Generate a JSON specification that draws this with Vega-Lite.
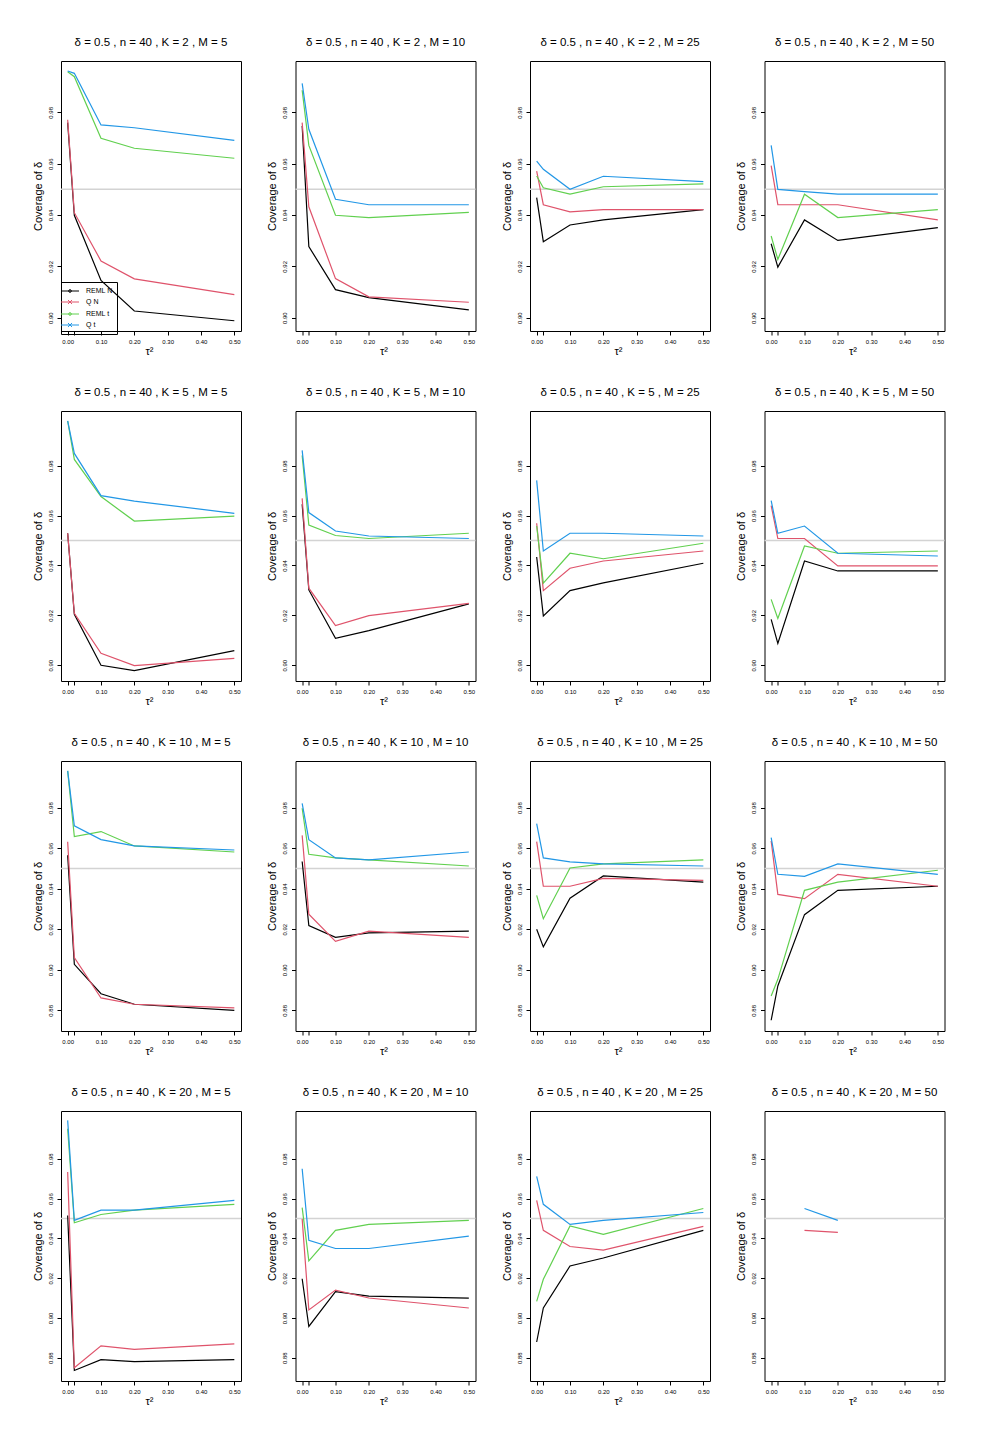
{
  "$schema": "https://vega.github.io/schema/vega-lite/v6.json",
  "background": "white",
  "padding": {"left": 31, "top": 36, "right": 5, "bottom": 5},
  "config": {
    "font": "Liberation Sans",
    "view": {"stroke": "black", "strokeWidth": 1},
    "title": {"fontSize": 11.5, "fontWeight": "normal", "color": "black", "baseline": "alphabetic", "offset": 13, "font": "Liberation Sans"},
    "axis": {"domain": false, "grid": false, "ticks": true, "tickColor": "black", "tickSize": 4, "tickWidth": 1, "labelFont": "Liberation Sans", "labelFontSize": 6, "labelColor": "black", "titleFont": "Liberation Sans", "titleFontWeight": "normal", "titleColor": "black", "labelOverlap": false, "labelFlush": false},
    "axisY": {"labelAngle": 270, "labelPadding": 4, "titleFontSize": 11, "titlePadding": 4, "format": ".2f"},
    "axisX": {"labelPadding": 3, "titleFontSize": 11, "titleX": 88, "titleY": 23, "titleBaseline": "alphabetic", "titleAlign": "center", "labelOverlap": false},
    "legend": {"orient": "none", "legendX": 0, "legendY": 221, "padding": 4, "strokeColor": "black", "labelFontSize": 7, "labelColor": "black", "symbolSize": 81, "symbolStrokeWidth": 1, "rowPadding": 2, "labelOffset": 11, "symbolOpacity": 1}
  },
  "bounds": "flush",
  "columns": 4,
  "spacing": {"row": 80, "column": 54.5},
  "data": {"values": [
    {"K":2,"M":5,"s":"REML N","x":0,"y":0.976},{"K":2,"M":5,"s":"REML N","x":0.02,"y":0.9399},{"K":2,"M":5,"s":"REML N","x":0.1,"y":0.9145},{"K":2,"M":5,"s":"REML N","x":0.2,"y":0.9026},{"K":2,"M":5,"s":"REML N","x":0.5,"y":0.8988},
    {"K":2,"M":5,"s":"Q N","x":0,"y":0.9771},{"K":2,"M":5,"s":"Q N","x":0.02,"y":0.9409},{"K":2,"M":5,"s":"Q N","x":0.1,"y":0.9221},{"K":2,"M":5,"s":"Q N","x":0.2,"y":0.9151},{"K":2,"M":5,"s":"Q N","x":0.5,"y":0.909},
    {"K":2,"M":5,"s":"REML t","x":0,"y":0.9958},{"K":2,"M":5,"s":"REML t","x":0.02,"y":0.9939},{"K":2,"M":5,"s":"REML t","x":0.1,"y":0.9699},{"K":2,"M":5,"s":"REML t","x":0.2,"y":0.966},{"K":2,"M":5,"s":"REML t","x":0.5,"y":0.9621},
    {"K":2,"M":5,"s":"Q t","x":0,"y":0.9961},{"K":2,"M":5,"s":"Q t","x":0.02,"y":0.9952},{"K":2,"M":5,"s":"Q t","x":0.1,"y":0.9751},{"K":2,"M":5,"s":"Q t","x":0.2,"y":0.974},{"K":2,"M":5,"s":"Q t","x":0.5,"y":0.9691},

    {"K":2,"M":10,"s":"REML N","x":0,"y":0.9747},{"K":2,"M":10,"s":"REML N","x":0.02,"y":0.9277},{"K":2,"M":10,"s":"REML N","x":0.1,"y":0.9109},{"K":2,"M":10,"s":"REML N","x":0.2,"y":0.9078},{"K":2,"M":10,"s":"REML N","x":0.5,"y":0.903},
    {"K":2,"M":10,"s":"Q N","x":0,"y":0.976},{"K":2,"M":10,"s":"Q N","x":0.02,"y":0.9432},{"K":2,"M":10,"s":"Q N","x":0.1,"y":0.9152},{"K":2,"M":10,"s":"Q N","x":0.2,"y":0.9081},{"K":2,"M":10,"s":"Q N","x":0.5,"y":0.906},
    {"K":2,"M":10,"s":"REML t","x":0,"y":0.9886},{"K":2,"M":10,"s":"REML t","x":0.02,"y":0.9671},{"K":2,"M":10,"s":"REML t","x":0.1,"y":0.9399},{"K":2,"M":10,"s":"REML t","x":0.2,"y":0.939},{"K":2,"M":10,"s":"REML t","x":0.5,"y":0.941},
    {"K":2,"M":10,"s":"Q t","x":0,"y":0.9913},{"K":2,"M":10,"s":"Q t","x":0.02,"y":0.9734},{"K":2,"M":10,"s":"Q t","x":0.1,"y":0.9461},{"K":2,"M":10,"s":"Q t","x":0.2,"y":0.944},{"K":2,"M":10,"s":"Q t","x":0.5,"y":0.944},

    {"K":2,"M":25,"s":"REML N","x":0,"y":0.9468},{"K":2,"M":25,"s":"REML N","x":0.02,"y":0.9296},{"K":2,"M":25,"s":"REML N","x":0.1,"y":0.9361},{"K":2,"M":25,"s":"REML N","x":0.2,"y":0.9381},{"K":2,"M":25,"s":"REML N","x":0.5,"y":0.9421},
    {"K":2,"M":25,"s":"Q N","x":0,"y":0.9571},{"K":2,"M":25,"s":"Q N","x":0.02,"y":0.944},{"K":2,"M":25,"s":"Q N","x":0.1,"y":0.9412},{"K":2,"M":25,"s":"Q N","x":0.2,"y":0.9421},{"K":2,"M":25,"s":"Q N","x":0.5,"y":0.9421},
    {"K":2,"M":25,"s":"REML t","x":0,"y":0.9552},{"K":2,"M":25,"s":"REML t","x":0.02,"y":0.9506},{"K":2,"M":25,"s":"REML t","x":0.1,"y":0.9481},{"K":2,"M":25,"s":"REML t","x":0.2,"y":0.951},{"K":2,"M":25,"s":"REML t","x":0.5,"y":0.9521},
    {"K":2,"M":25,"s":"Q t","x":0,"y":0.961},{"K":2,"M":25,"s":"Q t","x":0.02,"y":0.9578},{"K":2,"M":25,"s":"Q t","x":0.1,"y":0.95},{"K":2,"M":25,"s":"Q t","x":0.2,"y":0.9551},{"K":2,"M":25,"s":"Q t","x":0.5,"y":0.953},

    {"K":2,"M":50,"s":"REML N","x":0,"y":0.9288},{"K":2,"M":50,"s":"REML N","x":0.02,"y":0.9197},{"K":2,"M":50,"s":"REML N","x":0.1,"y":0.9381},{"K":2,"M":50,"s":"REML N","x":0.2,"y":0.9301},{"K":2,"M":50,"s":"REML N","x":0.5,"y":0.9351},
    {"K":2,"M":50,"s":"Q N","x":0,"y":0.9592},{"K":2,"M":50,"s":"Q N","x":0.02,"y":0.944},{"K":2,"M":50,"s":"Q N","x":0.1,"y":0.944},{"K":2,"M":50,"s":"Q N","x":0.2,"y":0.944},{"K":2,"M":50,"s":"Q N","x":0.5,"y":0.9381},
    {"K":2,"M":50,"s":"REML t","x":0,"y":0.9318},{"K":2,"M":50,"s":"REML t","x":0.02,"y":0.9227},{"K":2,"M":50,"s":"REML t","x":0.1,"y":0.9481},{"K":2,"M":50,"s":"REML t","x":0.2,"y":0.939},{"K":2,"M":50,"s":"REML t","x":0.5,"y":0.9421},
    {"K":2,"M":50,"s":"Q t","x":0,"y":0.9671},{"K":2,"M":50,"s":"Q t","x":0.02,"y":0.95},{"K":2,"M":50,"s":"Q t","x":0.1,"y":0.9491},{"K":2,"M":50,"s":"Q t","x":0.2,"y":0.9481},{"K":2,"M":50,"s":"Q t","x":0.5,"y":0.9481},

    {"K":5,"M":5,"s":"REML N","x":0,"y":0.9529},{"K":5,"M":5,"s":"REML N","x":0.02,"y":0.9204},{"K":5,"M":5,"s":"REML N","x":0.1,"y":0.9},{"K":5,"M":5,"s":"REML N","x":0.2,"y":0.8979},{"K":5,"M":5,"s":"REML N","x":0.5,"y":0.9059},
    {"K":5,"M":5,"s":"Q N","x":0,"y":0.9529},{"K":5,"M":5,"s":"Q N","x":0.02,"y":0.9208},{"K":5,"M":5,"s":"Q N","x":0.1,"y":0.9048},{"K":5,"M":5,"s":"Q N","x":0.2,"y":0.8999},{"K":5,"M":5,"s":"Q N","x":0.5,"y":0.9028},
    {"K":5,"M":5,"s":"REML t","x":0,"y":0.9979},{"K":5,"M":5,"s":"REML t","x":0.02,"y":0.9825},{"K":5,"M":5,"s":"REML t","x":0.1,"y":0.9676},{"K":5,"M":5,"s":"REML t","x":0.2,"y":0.9578},{"K":5,"M":5,"s":"REML t","x":0.5,"y":0.9598},
    {"K":5,"M":5,"s":"Q t","x":0,"y":0.9979},{"K":5,"M":5,"s":"Q t","x":0.02,"y":0.9849},{"K":5,"M":5,"s":"Q t","x":0.1,"y":0.968},{"K":5,"M":5,"s":"Q t","x":0.2,"y":0.9658},{"K":5,"M":5,"s":"Q t","x":0.5,"y":0.9609},

    {"K":5,"M":10,"s":"REML N","x":0,"y":0.9645},{"K":5,"M":10,"s":"REML N","x":0.02,"y":0.9302},{"K":5,"M":10,"s":"REML N","x":0.1,"y":0.9108},{"K":5,"M":10,"s":"REML N","x":0.2,"y":0.9139},{"K":5,"M":10,"s":"REML N","x":0.5,"y":0.9246},
    {"K":5,"M":10,"s":"Q N","x":0,"y":0.9669},{"K":5,"M":10,"s":"Q N","x":0.02,"y":0.9309},{"K":5,"M":10,"s":"Q N","x":0.1,"y":0.9159},{"K":5,"M":10,"s":"Q N","x":0.2,"y":0.9199},{"K":5,"M":10,"s":"Q N","x":0.5,"y":0.9248},
    {"K":5,"M":10,"s":"REML t","x":0,"y":0.9841},{"K":5,"M":10,"s":"REML t","x":0.02,"y":0.9562},{"K":5,"M":10,"s":"REML t","x":0.1,"y":0.952},{"K":5,"M":10,"s":"REML t","x":0.2,"y":0.9508},{"K":5,"M":10,"s":"REML t","x":0.5,"y":0.9529},
    {"K":5,"M":10,"s":"Q t","x":0,"y":0.9861},{"K":5,"M":10,"s":"Q t","x":0.02,"y":0.9612},{"K":5,"M":10,"s":"Q t","x":0.1,"y":0.9538},{"K":5,"M":10,"s":"Q t","x":0.2,"y":0.9518},{"K":5,"M":10,"s":"Q t","x":0.5,"y":0.9508},

    {"K":5,"M":25,"s":"REML N","x":0,"y":0.9434},{"K":5,"M":25,"s":"REML N","x":0.02,"y":0.9198},{"K":5,"M":25,"s":"REML N","x":0.1,"y":0.9299},{"K":5,"M":25,"s":"REML N","x":0.2,"y":0.933},{"K":5,"M":25,"s":"REML N","x":0.5,"y":0.9409},
    {"K":5,"M":25,"s":"Q N","x":0,"y":0.9569},{"K":5,"M":25,"s":"Q N","x":0.02,"y":0.9299},{"K":5,"M":25,"s":"Q N","x":0.1,"y":0.9389},{"K":5,"M":25,"s":"Q N","x":0.2,"y":0.9418},{"K":5,"M":25,"s":"Q N","x":0.5,"y":0.9458},
    {"K":5,"M":25,"s":"REML t","x":0,"y":0.9558},{"K":5,"M":25,"s":"REML t","x":0.02,"y":0.9329},{"K":5,"M":25,"s":"REML t","x":0.1,"y":0.9449},{"K":5,"M":25,"s":"REML t","x":0.2,"y":0.9427},{"K":5,"M":25,"s":"REML t","x":0.5,"y":0.9489},
    {"K":5,"M":25,"s":"Q t","x":0,"y":0.9741},{"K":5,"M":25,"s":"Q t","x":0.02,"y":0.9458},{"K":5,"M":25,"s":"Q t","x":0.1,"y":0.9529},{"K":5,"M":25,"s":"Q t","x":0.2,"y":0.9529},{"K":5,"M":25,"s":"Q t","x":0.5,"y":0.9518},

    {"K":5,"M":50,"s":"REML N","x":0,"y":0.9184},{"K":5,"M":50,"s":"REML N","x":0.02,"y":0.9088},{"K":5,"M":50,"s":"REML N","x":0.1,"y":0.9418},{"K":5,"M":50,"s":"REML N","x":0.2,"y":0.9378},{"K":5,"M":50,"s":"REML N","x":0.5,"y":0.9378},
    {"K":5,"M":50,"s":"Q N","x":0,"y":0.964},{"K":5,"M":50,"s":"Q N","x":0.02,"y":0.9508},{"K":5,"M":50,"s":"Q N","x":0.1,"y":0.9508},{"K":5,"M":50,"s":"Q N","x":0.2,"y":0.9398},{"K":5,"M":50,"s":"Q N","x":0.5,"y":0.9398},
    {"K":5,"M":50,"s":"REML t","x":0,"y":0.9264},{"K":5,"M":50,"s":"REML t","x":0.02,"y":0.9188},{"K":5,"M":50,"s":"REML t","x":0.1,"y":0.9478},{"K":5,"M":50,"s":"REML t","x":0.2,"y":0.9449},{"K":5,"M":50,"s":"REML t","x":0.5,"y":0.9458},
    {"K":5,"M":50,"s":"Q t","x":0,"y":0.966},{"K":5,"M":50,"s":"Q t","x":0.02,"y":0.9529},{"K":5,"M":50,"s":"Q t","x":0.1,"y":0.9558},{"K":5,"M":50,"s":"Q t","x":0.2,"y":0.9449},{"K":5,"M":50,"s":"Q t","x":0.5,"y":0.9438},

    {"K":10,"M":5,"s":"REML N","x":0,"y":0.9565},{"K":10,"M":5,"s":"REML N","x":0.02,"y":0.9027},{"K":10,"M":5,"s":"REML N","x":0.1,"y":0.8882},{"K":10,"M":5,"s":"REML N","x":0.2,"y":0.883},{"K":10,"M":5,"s":"REML N","x":0.5,"y":0.88},
    {"K":10,"M":5,"s":"Q N","x":0,"y":0.9632},{"K":10,"M":5,"s":"Q N","x":0.02,"y":0.906},{"K":10,"M":5,"s":"Q N","x":0.1,"y":0.8861},{"K":10,"M":5,"s":"Q N","x":0.2,"y":0.883},{"K":10,"M":5,"s":"Q N","x":0.5,"y":0.8812},
    {"K":10,"M":5,"s":"REML t","x":0,"y":0.9981},{"K":10,"M":5,"s":"REML t","x":0.02,"y":0.9657},{"K":10,"M":5,"s":"REML t","x":0.1,"y":0.9682},{"K":10,"M":5,"s":"REML t","x":0.2,"y":0.9611},{"K":10,"M":5,"s":"REML t","x":0.5,"y":0.9581},
    {"K":10,"M":5,"s":"Q t","x":0,"y":0.9981},{"K":10,"M":5,"s":"Q t","x":0.02,"y":0.971},{"K":10,"M":5,"s":"Q t","x":0.1,"y":0.9642},{"K":10,"M":5,"s":"Q t","x":0.2,"y":0.9611},{"K":10,"M":5,"s":"Q t","x":0.5,"y":0.9591},

    {"K":10,"M":10,"s":"REML N","x":0,"y":0.9534},{"K":10,"M":10,"s":"REML N","x":0.02,"y":0.9218},{"K":10,"M":10,"s":"REML N","x":0.1,"y":0.916},{"K":10,"M":10,"s":"REML N","x":0.2,"y":0.9182},{"K":10,"M":10,"s":"REML N","x":0.5,"y":0.9191},
    {"K":10,"M":10,"s":"Q N","x":0,"y":0.9663},{"K":10,"M":10,"s":"Q N","x":0.02,"y":0.9274},{"K":10,"M":10,"s":"Q N","x":0.1,"y":0.914},{"K":10,"M":10,"s":"Q N","x":0.2,"y":0.9191},{"K":10,"M":10,"s":"Q N","x":0.5,"y":0.916},
    {"K":10,"M":10,"s":"REML t","x":0,"y":0.9797},{"K":10,"M":10,"s":"REML t","x":0.02,"y":0.957},{"K":10,"M":10,"s":"REML t","x":0.1,"y":0.9552},{"K":10,"M":10,"s":"REML t","x":0.2,"y":0.9542},{"K":10,"M":10,"s":"REML t","x":0.5,"y":0.9512},
    {"K":10,"M":10,"s":"Q t","x":0,"y":0.9821},{"K":10,"M":10,"s":"Q t","x":0.02,"y":0.9642},{"K":10,"M":10,"s":"Q t","x":0.1,"y":0.9552},{"K":10,"M":10,"s":"Q t","x":0.2,"y":0.9542},{"K":10,"M":10,"s":"Q t","x":0.5,"y":0.9581},

    {"K":10,"M":25,"s":"REML N","x":0,"y":0.92},{"K":10,"M":25,"s":"REML N","x":0.02,"y":0.9113},{"K":10,"M":25,"s":"REML N","x":0.1,"y":0.9353},{"K":10,"M":25,"s":"REML N","x":0.2,"y":0.9463},{"K":10,"M":25,"s":"REML N","x":0.5,"y":0.9432},
    {"K":10,"M":25,"s":"Q N","x":0,"y":0.9632},{"K":10,"M":25,"s":"Q N","x":0.02,"y":0.9412},{"K":10,"M":25,"s":"Q N","x":0.1,"y":0.9412},{"K":10,"M":25,"s":"Q N","x":0.2,"y":0.9451},{"K":10,"M":25,"s":"Q N","x":0.5,"y":0.9441},
    {"K":10,"M":25,"s":"REML t","x":0,"y":0.9367},{"K":10,"M":25,"s":"REML t","x":0.02,"y":0.9252},{"K":10,"M":25,"s":"REML t","x":0.1,"y":0.9502},{"K":10,"M":25,"s":"REML t","x":0.2,"y":0.9522},{"K":10,"M":25,"s":"REML t","x":0.5,"y":0.9542},
    {"K":10,"M":25,"s":"Q t","x":0,"y":0.9721},{"K":10,"M":25,"s":"Q t","x":0.02,"y":0.9552},{"K":10,"M":25,"s":"Q t","x":0.1,"y":0.9532},{"K":10,"M":25,"s":"Q t","x":0.2,"y":0.9522},{"K":10,"M":25,"s":"Q t","x":0.5,"y":0.9512},

    {"K":10,"M":50,"s":"REML N","x":0,"y":0.8751},{"K":10,"M":50,"s":"REML N","x":0.02,"y":0.892},{"K":10,"M":50,"s":"REML N","x":0.1,"y":0.9272},{"K":10,"M":50,"s":"REML N","x":0.2,"y":0.9392},{"K":10,"M":50,"s":"REML N","x":0.5,"y":0.9412},
    {"K":10,"M":50,"s":"Q N","x":0,"y":0.9636},{"K":10,"M":50,"s":"Q N","x":0.02,"y":0.9372},{"K":10,"M":50,"s":"Q N","x":0.1,"y":0.9351},{"K":10,"M":50,"s":"Q N","x":0.2,"y":0.9471},{"K":10,"M":50,"s":"Q N","x":0.5,"y":0.9412},
    {"K":10,"M":50,"s":"REML t","x":0,"y":0.8871},{"K":10,"M":50,"s":"REML t","x":0.02,"y":0.8953},{"K":10,"M":50,"s":"REML t","x":0.1,"y":0.9392},{"K":10,"M":50,"s":"REML t","x":0.2,"y":0.9432},{"K":10,"M":50,"s":"REML t","x":0.5,"y":0.9491},
    {"K":10,"M":50,"s":"Q t","x":0,"y":0.9652},{"K":10,"M":50,"s":"Q t","x":0.02,"y":0.9471},{"K":10,"M":50,"s":"Q t","x":0.1,"y":0.9461},{"K":10,"M":50,"s":"Q t","x":0.2,"y":0.9522},{"K":10,"M":50,"s":"Q t","x":0.5,"y":0.9471},

    {"K":20,"M":5,"s":"REML N","x":0,"y":0.9515},{"K":20,"M":5,"s":"REML N","x":0.02,"y":0.8736},{"K":20,"M":5,"s":"REML N","x":0.1,"y":0.879},{"K":20,"M":5,"s":"REML N","x":0.2,"y":0.878},{"K":20,"M":5,"s":"REML N","x":0.5,"y":0.879},
    {"K":20,"M":5,"s":"Q N","x":0,"y":0.9733},{"K":20,"M":5,"s":"Q N","x":0.02,"y":0.875},{"K":20,"M":5,"s":"Q N","x":0.1,"y":0.886},{"K":20,"M":5,"s":"Q N","x":0.2,"y":0.8842},{"K":20,"M":5,"s":"Q N","x":0.5,"y":0.887},
    {"K":20,"M":5,"s":"REML t","x":0,"y":0.9951},{"K":20,"M":5,"s":"REML t","x":0.02,"y":0.9478},{"K":20,"M":5,"s":"REML t","x":0.1,"y":0.952},{"K":20,"M":5,"s":"REML t","x":0.2,"y":0.9542},{"K":20,"M":5,"s":"REML t","x":0.5,"y":0.9571},
    {"K":20,"M":5,"s":"Q t","x":0,"y":0.9993},{"K":20,"M":5,"s":"Q t","x":0.02,"y":0.949},{"K":20,"M":5,"s":"Q t","x":0.1,"y":0.9542},{"K":20,"M":5,"s":"Q t","x":0.2,"y":0.9542},{"K":20,"M":5,"s":"Q t","x":0.5,"y":0.9591},

    {"K":20,"M":10,"s":"REML N","x":0,"y":0.9197},{"K":20,"M":10,"s":"REML N","x":0.02,"y":0.8957},{"K":20,"M":10,"s":"REML N","x":0.1,"y":0.9132},{"K":20,"M":10,"s":"REML N","x":0.2,"y":0.911},{"K":20,"M":10,"s":"REML N","x":0.5,"y":0.91},
    {"K":20,"M":10,"s":"Q N","x":0,"y":0.9498},{"K":20,"M":10,"s":"Q N","x":0.02,"y":0.904},{"K":20,"M":10,"s":"Q N","x":0.1,"y":0.914},{"K":20,"M":10,"s":"Q N","x":0.2,"y":0.91},{"K":20,"M":10,"s":"Q N","x":0.5,"y":0.905},
    {"K":20,"M":10,"s":"REML t","x":0,"y":0.9554},{"K":20,"M":10,"s":"REML t","x":0.02,"y":0.9287},{"K":20,"M":10,"s":"REML t","x":0.1,"y":0.944},{"K":20,"M":10,"s":"REML t","x":0.2,"y":0.947},{"K":20,"M":10,"s":"REML t","x":0.5,"y":0.949},
    {"K":20,"M":10,"s":"Q t","x":0,"y":0.975},{"K":20,"M":10,"s":"Q t","x":0.02,"y":0.939},{"K":20,"M":10,"s":"Q t","x":0.1,"y":0.9349},{"K":20,"M":10,"s":"Q t","x":0.2,"y":0.9349},{"K":20,"M":10,"s":"Q t","x":0.5,"y":0.9411},

    {"K":20,"M":25,"s":"REML N","x":0,"y":0.8879},{"K":20,"M":25,"s":"REML N","x":0.02,"y":0.905},{"K":20,"M":25,"s":"REML N","x":0.1,"y":0.9261},{"K":20,"M":25,"s":"REML N","x":0.2,"y":0.9301},{"K":20,"M":25,"s":"REML N","x":0.5,"y":0.944},
    {"K":20,"M":25,"s":"Q N","x":0,"y":0.9591},{"K":20,"M":25,"s":"Q N","x":0.02,"y":0.944},{"K":20,"M":25,"s":"Q N","x":0.1,"y":0.9359},{"K":20,"M":25,"s":"Q N","x":0.2,"y":0.9341},{"K":20,"M":25,"s":"Q N","x":0.5,"y":0.946},
    {"K":20,"M":25,"s":"REML t","x":0,"y":0.9083},{"K":20,"M":25,"s":"REML t","x":0.02,"y":0.9194},{"K":20,"M":25,"s":"REML t","x":0.1,"y":0.9462},{"K":20,"M":25,"s":"REML t","x":0.2,"y":0.942},{"K":20,"M":25,"s":"REML t","x":0.5,"y":0.955},
    {"K":20,"M":25,"s":"Q t","x":0,"y":0.9711},{"K":20,"M":25,"s":"Q t","x":0.02,"y":0.9571},{"K":20,"M":25,"s":"Q t","x":0.1,"y":0.947},{"K":20,"M":25,"s":"Q t","x":0.2,"y":0.949},{"K":20,"M":25,"s":"Q t","x":0.5,"y":0.953},

    {"K":20,"M":50,"s":"Q N","x":0.1,"y":0.944},{"K":20,"M":50,"s":"Q N","x":0.2,"y":0.943},
    {"K":20,"M":50,"s":"Q t","x":0.1,"y":0.955},{"K":20,"M":50,"s":"Q t","x":0.2,"y":0.949}
  ]},
  "concat": [
    {"width":180,"height":270,"title":"δ = 0.5 , n = 40 , K = 2 , M = 5",
     "encoding":{"y":{"field":"y","type":"quantitative","scale":{"domain":[0.8948,1.0],"nice":false,"zero":false},"axis":{"title":"Coverage of δ","values":[0.9,0.92,0.94,0.96,0.98]}}},
     "layer":[
      {"data":{"values":[{"y":0.95}]},"mark":{"type":"rule","color":"#d3d3d3","strokeWidth":1.5},"encoding":{}},
      {"transform":[{"filter":"datum.K == 2 && datum.M == 5"}],"mark":{"type":"line","strokeWidth":1.2},"encoding":{"x":{"field":"x","type":"quantitative","scale":{"domain":[-0.02,0.52],"nice":false,"zero":false},"axis":{"title":"τ²","labelOverlap":false,"values":[0,0.02,0.1,0.2,0.3,0.4,0.5],"labelExpr":"abs(datum.value - 0.02) < 0.001 ? '' : format(datum.value, '.2f')"}},"color":{"field":"s","type":"nominal","scale":{"domain":["REML N","Q N","REML t","Q t"],"range":["#000000","#DF536B","#61D04F","#2297E6"]},"legend":{"title":null}}}},
      {"transform":[{"filter":"datum.K == 2 && datum.M == 5"}],"mark":{"type":"point","filled":false,"opacity":0},"encoding":{"x":{"field":"x","type":"quantitative","scale":{"domain":[-0.02,0.52],"nice":false,"zero":false},"axis":{"title":"τ²","labelOverlap":false,"values":[0,0.02,0.1,0.2,0.3,0.4,0.5],"labelExpr":"abs(datum.value - 0.02) < 0.001 ? '' : format(datum.value, '.2f')"}},"color":{"field":"s","type":"nominal","legend":{"title":null}},"shape":{"field":"s","type":"nominal","scale":{"domain":["REML N","Q N","REML t","Q t"],"range":["M-2,0L2,0M-0.3,0A0.3,0.3,0,1,0,0.3,0A0.3,0.3,0,1,0,-0.3,0","M-2,0L2,0M-0.45,-0.45L0.45,0.45M-0.45,0.45L0.45,-0.45","M-2,0L2,0M-0.3,0A0.3,0.3,0,1,0,0.3,0A0.3,0.3,0,1,0,-0.3,0","M-2,0L2,0M-0.45,-0.45L0.45,0.45M-0.45,0.45L0.45,-0.45"]},"legend":{"title":null}}}}
     ]},
    {"width":180,"height":270,"title":"δ = 0.5 , n = 40 , K = 2 , M = 10",
     "encoding":{"y":{"field":"y","type":"quantitative","scale":{"domain":[0.8948,1.0],"nice":false,"zero":false},"axis":{"title":"Coverage of δ","values":[0.9,0.92,0.94,0.96,0.98]}}},
     "layer":[
      {"data":{"values":[{"y":0.95}]},"mark":{"type":"rule","color":"#d3d3d3","strokeWidth":1.5},"encoding":{}},
      {"transform":[{"filter":"datum.K == 2 && datum.M == 10"}],"mark":{"type":"line","strokeWidth":1.2},"encoding":{"x":{"field":"x","type":"quantitative","scale":{"domain":[-0.02,0.52],"nice":false,"zero":false},"axis":{"title":"τ²","labelOverlap":false,"values":[0,0.02,0.1,0.2,0.3,0.4,0.5],"labelExpr":"abs(datum.value - 0.02) < 0.001 ? '' : format(datum.value, '.2f')"}},"color":{"field":"s","type":"nominal","legend":{"title":null}}}}
     ]},
    {"width":180,"height":270,"title":"δ = 0.5 , n = 40 , K = 2 , M = 25",
     "encoding":{"y":{"field":"y","type":"quantitative","scale":{"domain":[0.8948,1.0],"nice":false,"zero":false},"axis":{"title":"Coverage of δ","values":[0.9,0.92,0.94,0.96,0.98]}}},
     "layer":[
      {"data":{"values":[{"y":0.95}]},"mark":{"type":"rule","color":"#d3d3d3","strokeWidth":1.5},"encoding":{}},
      {"transform":[{"filter":"datum.K == 2 && datum.M == 25"}],"mark":{"type":"line","strokeWidth":1.2},"encoding":{"x":{"field":"x","type":"quantitative","scale":{"domain":[-0.02,0.52],"nice":false,"zero":false},"axis":{"title":"τ²","labelOverlap":false,"values":[0,0.02,0.1,0.2,0.3,0.4,0.5],"labelExpr":"abs(datum.value - 0.02) < 0.001 ? '' : format(datum.value, '.2f')"}},"color":{"field":"s","type":"nominal","legend":{"title":null}}}}
     ]},
    {"width":180,"height":270,"title":"δ = 0.5 , n = 40 , K = 2 , M = 50",
     "encoding":{"y":{"field":"y","type":"quantitative","scale":{"domain":[0.8948,1.0],"nice":false,"zero":false},"axis":{"title":"Coverage of δ","values":[0.9,0.92,0.94,0.96,0.98]}}},
     "layer":[
      {"data":{"values":[{"y":0.95}]},"mark":{"type":"rule","color":"#d3d3d3","strokeWidth":1.5},"encoding":{}},
      {"transform":[{"filter":"datum.K == 2 && datum.M == 50"}],"mark":{"type":"line","strokeWidth":1.2},"encoding":{"x":{"field":"x","type":"quantitative","scale":{"domain":[-0.02,0.52],"nice":false,"zero":false},"axis":{"title":"τ²","labelOverlap":false,"values":[0,0.02,0.1,0.2,0.3,0.4,0.5],"labelExpr":"abs(datum.value - 0.02) < 0.001 ? '' : format(datum.value, '.2f')"}},"color":{"field":"s","type":"nominal","legend":{"title":null}}}}
     ]},

    {"width":180,"height":270,"title":"δ = 0.5 , n = 40 , K = 5 , M = 5",
     "encoding":{"y":{"field":"y","type":"quantitative","scale":{"domain":[0.8937,1.0019],"nice":false,"zero":false},"axis":{"title":"Coverage of δ","values":[0.9,0.92,0.94,0.96,0.98]}}},
     "layer":[
      {"data":{"values":[{"y":0.95}]},"mark":{"type":"rule","color":"#d3d3d3","strokeWidth":1.5},"encoding":{}},
      {"transform":[{"filter":"datum.K == 5 && datum.M == 5"}],"mark":{"type":"line","strokeWidth":1.2},"encoding":{"x":{"field":"x","type":"quantitative","scale":{"domain":[-0.02,0.52],"nice":false,"zero":false},"axis":{"title":"τ²","labelOverlap":false,"values":[0,0.02,0.1,0.2,0.3,0.4,0.5],"labelExpr":"abs(datum.value - 0.02) < 0.001 ? '' : format(datum.value, '.2f')"}},"color":{"field":"s","type":"nominal","legend":{"title":null}}}}
     ]},
    {"width":180,"height":270,"title":"δ = 0.5 , n = 40 , K = 5 , M = 10",
     "encoding":{"y":{"field":"y","type":"quantitative","scale":{"domain":[0.8937,1.0019],"nice":false,"zero":false},"axis":{"title":"Coverage of δ","values":[0.9,0.92,0.94,0.96,0.98]}}},
     "layer":[
      {"data":{"values":[{"y":0.95}]},"mark":{"type":"rule","color":"#d3d3d3","strokeWidth":1.5},"encoding":{}},
      {"transform":[{"filter":"datum.K == 5 && datum.M == 10"}],"mark":{"type":"line","strokeWidth":1.2},"encoding":{"x":{"field":"x","type":"quantitative","scale":{"domain":[-0.02,0.52],"nice":false,"zero":false},"axis":{"title":"τ²","labelOverlap":false,"values":[0,0.02,0.1,0.2,0.3,0.4,0.5],"labelExpr":"abs(datum.value - 0.02) < 0.001 ? '' : format(datum.value, '.2f')"}},"color":{"field":"s","type":"nominal","legend":{"title":null}}}}
     ]},
    {"width":180,"height":270,"title":"δ = 0.5 , n = 40 , K = 5 , M = 25",
     "encoding":{"y":{"field":"y","type":"quantitative","scale":{"domain":[0.8937,1.0019],"nice":false,"zero":false},"axis":{"title":"Coverage of δ","values":[0.9,0.92,0.94,0.96,0.98]}}},
     "layer":[
      {"data":{"values":[{"y":0.95}]},"mark":{"type":"rule","color":"#d3d3d3","strokeWidth":1.5},"encoding":{}},
      {"transform":[{"filter":"datum.K == 5 && datum.M == 25"}],"mark":{"type":"line","strokeWidth":1.2},"encoding":{"x":{"field":"x","type":"quantitative","scale":{"domain":[-0.02,0.52],"nice":false,"zero":false},"axis":{"title":"τ²","labelOverlap":false,"values":[0,0.02,0.1,0.2,0.3,0.4,0.5],"labelExpr":"abs(datum.value - 0.02) < 0.001 ? '' : format(datum.value, '.2f')"}},"color":{"field":"s","type":"nominal","legend":{"title":null}}}}
     ]},
    {"width":180,"height":270,"title":"δ = 0.5 , n = 40 , K = 5 , M = 50",
     "encoding":{"y":{"field":"y","type":"quantitative","scale":{"domain":[0.8937,1.0019],"nice":false,"zero":false},"axis":{"title":"Coverage of δ","values":[0.9,0.92,0.94,0.96,0.98]}}},
     "layer":[
      {"data":{"values":[{"y":0.95}]},"mark":{"type":"rule","color":"#d3d3d3","strokeWidth":1.5},"encoding":{}},
      {"transform":[{"filter":"datum.K == 5 && datum.M == 50"}],"mark":{"type":"line","strokeWidth":1.2},"encoding":{"x":{"field":"x","type":"quantitative","scale":{"domain":[-0.02,0.52],"nice":false,"zero":false},"axis":{"title":"τ²","labelOverlap":false,"values":[0,0.02,0.1,0.2,0.3,0.4,0.5],"labelExpr":"abs(datum.value - 0.02) < 0.001 ? '' : format(datum.value, '.2f')"}},"color":{"field":"s","type":"nominal","legend":{"title":null}}}}
     ]},

    {"width":180,"height":270,"title":"δ = 0.5 , n = 40 , K = 10 , M = 5",
     "encoding":{"y":{"field":"y","type":"quantitative","scale":{"domain":[0.8698,1.003],"nice":false,"zero":false},"axis":{"title":"Coverage of δ","values":[0.88,0.9,0.92,0.94,0.96,0.98]}}},
     "layer":[
      {"data":{"values":[{"y":0.95}]},"mark":{"type":"rule","color":"#d3d3d3","strokeWidth":1.5},"encoding":{}},
      {"transform":[{"filter":"datum.K == 10 && datum.M == 5"}],"mark":{"type":"line","strokeWidth":1.2},"encoding":{"x":{"field":"x","type":"quantitative","scale":{"domain":[-0.02,0.52],"nice":false,"zero":false},"axis":{"title":"τ²","labelOverlap":false,"values":[0,0.02,0.1,0.2,0.3,0.4,0.5],"labelExpr":"abs(datum.value - 0.02) < 0.001 ? '' : format(datum.value, '.2f')"}},"color":{"field":"s","type":"nominal","legend":{"title":null}}}}
     ]},
    {"width":180,"height":270,"title":"δ = 0.5 , n = 40 , K = 10 , M = 10",
     "encoding":{"y":{"field":"y","type":"quantitative","scale":{"domain":[0.8698,1.003],"nice":false,"zero":false},"axis":{"title":"Coverage of δ","values":[0.88,0.9,0.92,0.94,0.96,0.98]}}},
     "layer":[
      {"data":{"values":[{"y":0.95}]},"mark":{"type":"rule","color":"#d3d3d3","strokeWidth":1.5},"encoding":{}},
      {"transform":[{"filter":"datum.K == 10 && datum.M == 10"}],"mark":{"type":"line","strokeWidth":1.2},"encoding":{"x":{"field":"x","type":"quantitative","scale":{"domain":[-0.02,0.52],"nice":false,"zero":false},"axis":{"title":"τ²","labelOverlap":false,"values":[0,0.02,0.1,0.2,0.3,0.4,0.5],"labelExpr":"abs(datum.value - 0.02) < 0.001 ? '' : format(datum.value, '.2f')"}},"color":{"field":"s","type":"nominal","legend":{"title":null}}}}
     ]},
    {"width":180,"height":270,"title":"δ = 0.5 , n = 40 , K = 10 , M = 25",
     "encoding":{"y":{"field":"y","type":"quantitative","scale":{"domain":[0.8698,1.003],"nice":false,"zero":false},"axis":{"title":"Coverage of δ","values":[0.88,0.9,0.92,0.94,0.96,0.98]}}},
     "layer":[
      {"data":{"values":[{"y":0.95}]},"mark":{"type":"rule","color":"#d3d3d3","strokeWidth":1.5},"encoding":{}},
      {"transform":[{"filter":"datum.K == 10 && datum.M == 25"}],"mark":{"type":"line","strokeWidth":1.2},"encoding":{"x":{"field":"x","type":"quantitative","scale":{"domain":[-0.02,0.52],"nice":false,"zero":false},"axis":{"title":"τ²","labelOverlap":false,"values":[0,0.02,0.1,0.2,0.3,0.4,0.5],"labelExpr":"abs(datum.value - 0.02) < 0.001 ? '' : format(datum.value, '.2f')"}},"color":{"field":"s","type":"nominal","legend":{"title":null}}}}
     ]},
    {"width":180,"height":270,"title":"δ = 0.5 , n = 40 , K = 10 , M = 50",
     "encoding":{"y":{"field":"y","type":"quantitative","scale":{"domain":[0.8698,1.003],"nice":false,"zero":false},"axis":{"title":"Coverage of δ","values":[0.88,0.9,0.92,0.94,0.96,0.98]}}},
     "layer":[
      {"data":{"values":[{"y":0.95}]},"mark":{"type":"rule","color":"#d3d3d3","strokeWidth":1.5},"encoding":{}},
      {"transform":[{"filter":"datum.K == 10 && datum.M == 50"}],"mark":{"type":"line","strokeWidth":1.2},"encoding":{"x":{"field":"x","type":"quantitative","scale":{"domain":[-0.02,0.52],"nice":false,"zero":false},"axis":{"title":"τ²","labelOverlap":false,"values":[0,0.02,0.1,0.2,0.3,0.4,0.5],"labelExpr":"abs(datum.value - 0.02) < 0.001 ? '' : format(datum.value, '.2f')"}},"color":{"field":"s","type":"nominal","legend":{"title":null}}}}
     ]},

    {"width":180,"height":270,"title":"δ = 0.5 , n = 40 , K = 20 , M = 5",
     "encoding":{"y":{"field":"y","type":"quantitative","scale":{"domain":[0.8683,1.004],"nice":false,"zero":false},"axis":{"title":"Coverage of δ","values":[0.88,0.9,0.92,0.94,0.96,0.98]}}},
     "layer":[
      {"data":{"values":[{"y":0.95}]},"mark":{"type":"rule","color":"#d3d3d3","strokeWidth":1.5},"encoding":{}},
      {"transform":[{"filter":"datum.K == 20 && datum.M == 5"}],"mark":{"type":"line","strokeWidth":1.2},"encoding":{"x":{"field":"x","type":"quantitative","scale":{"domain":[-0.02,0.52],"nice":false,"zero":false},"axis":{"title":"τ²","labelOverlap":false,"values":[0,0.02,0.1,0.2,0.3,0.4,0.5],"labelExpr":"abs(datum.value - 0.02) < 0.001 ? '' : format(datum.value, '.2f')"}},"color":{"field":"s","type":"nominal","legend":{"title":null}}}}
     ]},
    {"width":180,"height":270,"title":"δ = 0.5 , n = 40 , K = 20 , M = 10",
     "encoding":{"y":{"field":"y","type":"quantitative","scale":{"domain":[0.8683,1.004],"nice":false,"zero":false},"axis":{"title":"Coverage of δ","values":[0.88,0.9,0.92,0.94,0.96,0.98]}}},
     "layer":[
      {"data":{"values":[{"y":0.95}]},"mark":{"type":"rule","color":"#d3d3d3","strokeWidth":1.5},"encoding":{}},
      {"transform":[{"filter":"datum.K == 20 && datum.M == 10"}],"mark":{"type":"line","strokeWidth":1.2},"encoding":{"x":{"field":"x","type":"quantitative","scale":{"domain":[-0.02,0.52],"nice":false,"zero":false},"axis":{"title":"τ²","labelOverlap":false,"values":[0,0.02,0.1,0.2,0.3,0.4,0.5],"labelExpr":"abs(datum.value - 0.02) < 0.001 ? '' : format(datum.value, '.2f')"}},"color":{"field":"s","type":"nominal","legend":{"title":null}}}}
     ]},
    {"width":180,"height":270,"title":"δ = 0.5 , n = 40 , K = 20 , M = 25",
     "encoding":{"y":{"field":"y","type":"quantitative","scale":{"domain":[0.8683,1.004],"nice":false,"zero":false},"axis":{"title":"Coverage of δ","values":[0.88,0.9,0.92,0.94,0.96,0.98]}}},
     "layer":[
      {"data":{"values":[{"y":0.95}]},"mark":{"type":"rule","color":"#d3d3d3","strokeWidth":1.5},"encoding":{}},
      {"transform":[{"filter":"datum.K == 20 && datum.M == 25"}],"mark":{"type":"line","strokeWidth":1.2},"encoding":{"x":{"field":"x","type":"quantitative","scale":{"domain":[-0.02,0.52],"nice":false,"zero":false},"axis":{"title":"τ²","labelOverlap":false,"values":[0,0.02,0.1,0.2,0.3,0.4,0.5],"labelExpr":"abs(datum.value - 0.02) < 0.001 ? '' : format(datum.value, '.2f')"}},"color":{"field":"s","type":"nominal","legend":{"title":null}}}}
     ]},
    {"width":180,"height":270,"title":"δ = 0.5 , n = 40 , K = 20 , M = 50",
     "encoding":{"y":{"field":"y","type":"quantitative","scale":{"domain":[0.8683,1.004],"nice":false,"zero":false},"axis":{"title":"Coverage of δ","values":[0.88,0.9,0.92,0.94,0.96,0.98]}}},
     "layer":[
      {"data":{"values":[{"y":0.95}]},"mark":{"type":"rule","color":"#d3d3d3","strokeWidth":1.5},"encoding":{}},
      {"transform":[{"filter":"datum.K == 20 && datum.M == 50"}],"mark":{"type":"line","strokeWidth":1.2},"encoding":{"x":{"field":"x","type":"quantitative","scale":{"domain":[-0.02,0.52],"nice":false,"zero":false},"axis":{"title":"τ²","labelOverlap":false,"values":[0,0.02,0.1,0.2,0.3,0.4,0.5],"labelExpr":"abs(datum.value - 0.02) < 0.001 ? '' : format(datum.value, '.2f')"}},"color":{"field":"s","type":"nominal","legend":{"title":null}}}}
     ]}
  ]
}
